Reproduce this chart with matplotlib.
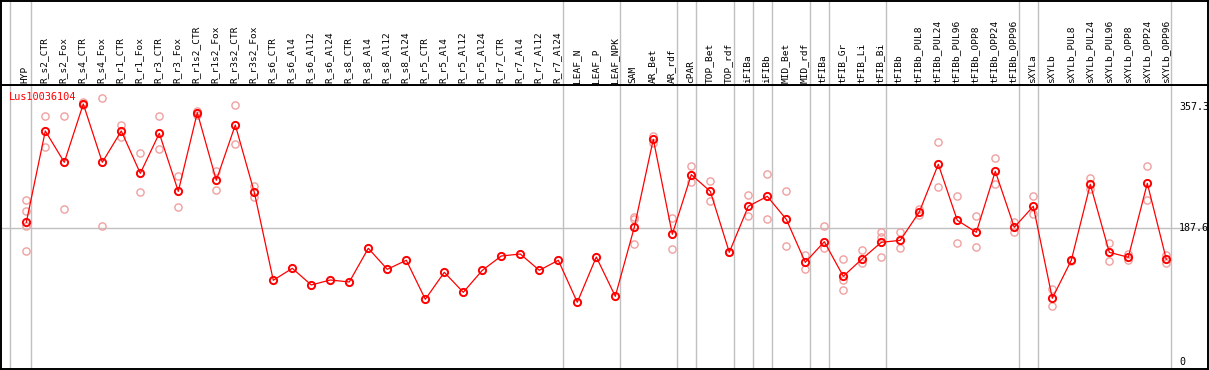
import matplotlib
matplotlib.use("Agg")
import matplotlib.pyplot as plt
import numpy as np

GENE = "Lus10036104"

samples = [
    "HYP", "R_s2_CTR", "R_s2_Fox", "R_s4_CTR", "R_s4_Fox", "R_r1_CTR", "R_r1_Fox",
    "R_r3_CTR", "R_r3_Fox", "R_r1s2_CTR", "R_r1s2_Fox", "R_r3s2_CTR", "R_r3s2_Fox",
    "R_s6_CTR", "R_s6_Al4", "R_s6_Al12", "R_s6_Al24",
    "R_s8_CTR", "R_s8_Al4", "R_s8_Al12", "R_s8_Al24",
    "R_r5_CTR", "R_r5_Al4", "R_r5_Al12", "R_r5_Al24",
    "R_r7_CTR", "R_r7_Al4", "R_r7_Al12", "R_r7_Al24",
    "LEAF_N", "LEAF_P", "LEAF_NPK", "SAM", "AR_Bet", "AR_rdf", "cPAR",
    "TOP_Bet", "TOP_rdf", "iFIBa", "iFIBb", "MID_Bet", "MID_rdf",
    "tFIBa", "tFIB_Gr", "tFIB_Li", "tFIB_Bi", "tFIBb",
    "tFIBb_PUL8", "tFIBb_PUL24", "tFIBb_PUL96", "tFIBb_OPP8", "tFIBb_OPP24", "tFIBb_OPP96",
    "sXYLa", "sXYLb",
    "sXYLb_PUL8", "sXYLb_PUL24", "sXYLb_PUL96", "sXYLb_OPP8", "sXYLb_OPP24", "sXYLb_OPP96",
]

# group sizes (a grey separator after each group)
groups = [1, 28, 3, 3, 1, 2, 1, 1, 2, 1, 3, 7, 1, 7]

means = [
    195.9, 324.2, 280.2, 362.1, 280.2, 324.2, 264.7, 320.9, 239.4, 349.9, 254.9, 332.6, 238.0,
    114.5, 131.3, 107.9, 114.9, 112.1, 159.4, 129.9, 142.6,
    87.8, 125.7, 97.6, 128.5, 148.6, 151.4, 128.5, 142.6,
    83.6, 147.2, 92.0, 188.9, 312.5, 179.1, 262.8, 239.4, 153.8, 218.4, 232.4,
    200.1, 139.7, 168.7, 120.1, 144.8, 167.8, 170.6,
    210.4, 277.4, 198.7, 181.9, 267.6, 188.9, 218.4, 89.2,
    142.6, 249.3, 153.8, 146.8, 250.7, 143.9,
]

reps = [
    [227.8, 211.8, 190.7, 155.2], [345.2, 301.3], [345.2, 214.6], [365.3, 360.7],
    [370.0, 190.7], [333.0, 315.3], [292.8, 238.0], [345.2, 298.9], [261.4, 217.4],
    [352.0, 347.0], [268.4, 240.8], [360.7, 305.5], [246.9, 231.0],
    [], [], [], [], [], [], [], [], [], [], [], [], [], [], [], [],
    [], [], [],
    [203.8, 200.1, 165.0], [317.6, 307.7], [201.5, 158.0], [274.6, 252.1],
    [253.9, 225.4], [153.8], [233.8, 204.4], [263.3, 200.1], [239.4, 162.2],
    [150.0, 130.8], [190.3, 159.4], [143.9, 114.9, 100.4], [156.6, 138.8],
    [182.7, 175.7, 147.6], [181.9, 159.4],
    [215.0, 205.8], [308.3, 245.9], [232.4, 166.4], [204.4, 160.8], [285.8, 249.3],
    [195.9, 181.9], [232.4, 207.2], [101.8, 77.9],
    [143.5, 141.8], [257.7, 242.3], [166.4, 141.2], [151.4, 142.6], [274.6, 226.8],
    [149.6, 138.3],
]

y_ticks = [357.3, 187.6, 0]

W, H = 1209, 370
fig = plt.figure(figsize=(W / 100, H / 100), dpi=100)

# pixel layout
left_px, right_px = 1, 1208
top_px, mid_px, bot_px = 0.5, 85, 369
x0_px, step_px = 26.3, 19.0
v_zero_px, px_per_unit = 361.8, 0.712

ax = fig.add_axes([left_px / W, (H - bot_px) / H, (right_px - left_px) / W, (bot_px - mid_px) / H])
hdr = fig.add_axes([left_px / W, (H - mid_px) / H, (right_px - left_px) / W, (mid_px - top_px) / H],
                   sharex=ax)

xlim = ((left_px - x0_px) / step_px, (right_px - x0_px) / step_px)
ax.set_xlim(*xlim)
ax.set_ylim((v_zero_px - bot_px) / px_per_unit, (v_zero_px - mid_px) / px_per_unit)
hdr.set_ylim(0, 1)

for a in (ax, hdr):
    a.set_xticks([])
    a.set_yticks([])
    for s in a.spines.values():
        s.set_color("black")
        s.set_linewidth(1.4)

x = np.arange(len(samples))

# separators
seps = [-0.84] + list(np.cumsum(groups) - 1 + 0.23)
for s in seps:
    ax.axvline(s, color="#c0c0c0", lw=1.0, zorder=1)
    hdr.axvline(s, color="#c0c0c0", lw=1.0, zorder=1)

ax.axhline(y_ticks[1], color="#c0c0c0", lw=1.0, zorder=1)

# replicates
for i, r in enumerate(reps):
    if r:
        ax.plot([i] * len(r), r, "o", ms=5.2, mfc="none", mec="#f0a0a0", mew=1.0, zorder=2)

ax.plot(x, means, "-", color="red", lw=0.9, zorder=3)
ax.plot(x, means, "o", ms=5.2, mfc="none", mec="red", mew=1.4, zorder=4)

for i, name in enumerate(samples):
    hdr.text(i - 0.05, 0.025, name, rotation=90, ha="center", va="bottom",
             family="DejaVu Sans Mono", fontsize=6.8, color="black")

for v in y_ticks:
    ax.text((1179 - left_px) / (right_px - left_px), v, f"{v:g}", transform=ax.get_yaxis_transform(),
            ha="left", va="center", family="DejaVu Sans Mono", fontsize=7.2, color="black",
            clip_on=True)

ax.text((9.3 - left_px) / (right_px - left_px), (bot_px - 96.7) / (bot_px - mid_px), GENE,
        transform=ax.transAxes, ha="left", va="center", family="DejaVu Sans Mono",
        fontsize=7.4, color="red")

fig.savefig("out.png", dpi=100)
